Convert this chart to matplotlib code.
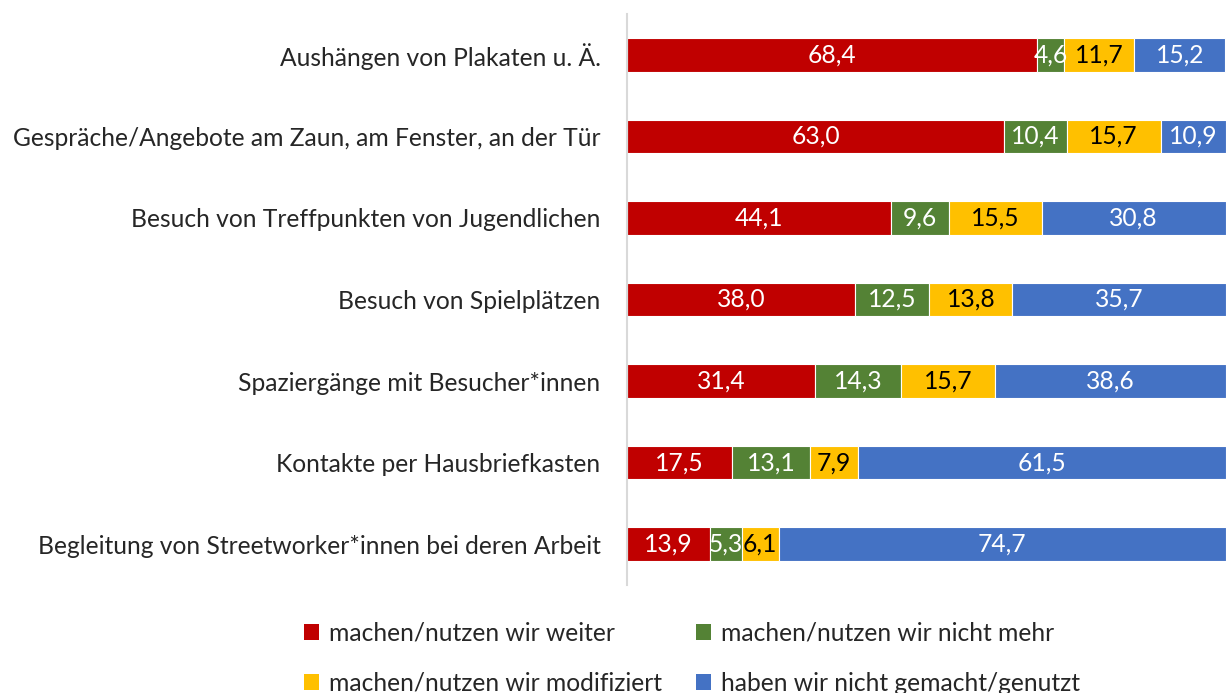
import matplotlib
matplotlib.use("Agg")
import matplotlib.pyplot as plt
from matplotlib.patches import Patch

categories = [
    "Aushängen von Plakaten u. Ä.",
    "Gespräche/Angebote am Zaun, am Fenster, an der Tür",
    "Besuch von Treffpunkten von Jugendlichen",
    "Besuch von Spielplätzen",
    "Spaziergänge mit Besucher*innen",
    "Kontakte per Hausbriefkasten",
    "Begleitung von Streetworker*innen bei deren Arbeit",
]
weiter = [68.4, 63.0, 44.1, 38.0, 31.4, 17.5, 13.9]
nicht_mehr = [4.6, 10.4, 9.6, 12.5, 14.3, 13.1, 5.3]
modifiziert = [11.7, 15.7, 15.5, 13.8, 15.7, 7.9, 6.1]
nicht_gemacht = [15.2, 10.9, 30.8, 35.7, 38.6, 61.5, 74.7]

series_names = [
    "machen/nutzen wir weiter",
    "machen/nutzen wir nicht mehr",
    "machen/nutzen wir modifiziert",
    "haben wir nicht gemacht/genutzt",
]
colors = ["#C00000", "#548235", "#FFC000", "#4472C4"]
text_colors = ["white", "white", "black", "white"]

plt.rcParams["font.family"] = ["Lato", "DejaVu Sans"]
FS = 17.7

fig = plt.figure(figsize=(12.26, 6.93), dpi=100)
ax = fig.add_axes([627 / 1226, 1 - 585 / 693, 1 - 627 / 1226, (585 - 14) / 693])

ypos = list(range(len(categories)))
left = [0.0] * len(categories)
all_series = [weiter, nicht_mehr, modifiziert, nicht_gemacht]
for vals, col, tc, name in zip(all_series, colors, text_colors, series_names):
    ax.barh(ypos, vals, left=left, height=0.41, color=col,
            edgecolor="white", linewidth=0.8, label=name)
    for y, v, l in zip(ypos, vals, left):
        ax.text(l + v / 2, y, f"{v:.1f}".replace(".", ","), ha="center",
                va="center", color=tc, fontsize=FS)
    left = [a + b for a, b in zip(left, vals)]

ax.set_xlim(0, 100)
ax.set_ylim(len(categories) - 0.5, -0.5)
ax.set_yticks(ypos)
ax.set_yticklabels(categories, fontsize=FS, color="#262626")
ax.tick_params(axis="y", length=0, pad=19)
ax.set_xticks([])
for s in ["top", "right", "bottom"]:
    ax.spines[s].set_visible(False)
ax.spines["left"].set_color("#D9D9D9")
ax.spines["left"].set_linewidth(1.5)

handles = [Patch(facecolor=c) for c in colors]
order = [0, 2, 1, 3]
fig.legend([handles[i] for i in order], [series_names[i] for i in order],
           ncol=2, loc="center", bbox_to_anchor=(692 / 1226, 1 - 658 / 693),
           frameon=False, fontsize=FS, handlelength=0.6, handleheight=0.6,
           handletextpad=0.4, columnspacing=1.4, labelspacing=1.1,
           labelcolor="#262626")

fig.savefig("out.png", dpi=100)
